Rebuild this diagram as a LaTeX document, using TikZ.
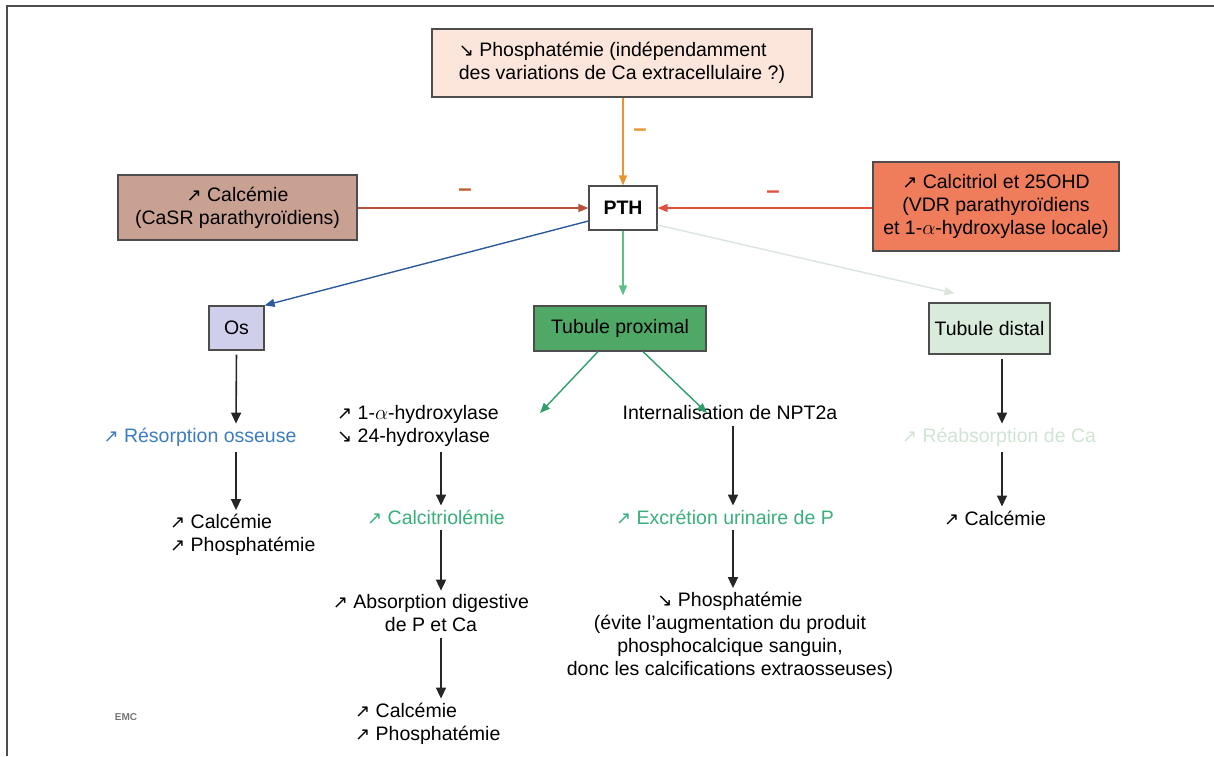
\documentclass[tikz,border=0pt]{standalone}
\usepackage{fontspec}
\setmainfont{Liberation Sans}
\newfontfamily\arrowfont{DejaVu Sans}
\usetikzlibrary{arrows.meta}

\definecolor{boxline}{HTML}{4D4D4D}
\definecolor{topfill}{HTML}{FCE6DC}
\definecolor{calcfill}{HTML}{C9A193}
\definecolor{vitfill}{HTML}{EF7D5B}
\definecolor{osfill}{HTML}{CFCFEB}
\definecolor{proxfill}{HTML}{4FA865}
\definecolor{distfill}{HTML}{D9EBDB}
\definecolor{orangeline}{HTML}{E8952F}
\definecolor{brunline}{HTML}{B4533A}
\definecolor{rougeline}{HTML}{E0503A}
\definecolor{bleuline}{HTML}{2C5C9C}
\definecolor{vertclair}{HTML}{5FBF8A}
\definecolor{grisvert}{HTML}{DCE4DE}
\definecolor{vertfonce}{HTML}{2E9E6B}
\definecolor{bleutexte}{HTML}{3D7CC0}
\definecolor{verttexte}{HTML}{3AAE7B}
\definecolor{reabstexte}{HTML}{D0E3D4}

\newcommand{\hausse}{{\arrowfont\fontsize{18}{18}\selectfont ↗}}
\newcommand{\baisse}{{\arrowfont\fontsize{18}{18}\selectfont ↘}}

\begin{document}
\begin{tikzpicture}[x=1pt,y=-1pt,
    every node/.style={font=\fontsize{19.5}{23}\selectfont},
    box/.style={draw=boxline,line width=1.2pt,inner sep=0pt,align=center},
    txt/.style={inner sep=2pt,align=center},
    fleche/.style={-{Triangle[length=11pt,width=10pt]},line width=1.6pt,black!85,shorten <=4pt,shorten >=2pt},
    lien/.style={-{Triangle[length=10pt,width=8pt]},line width=1.4pt},
    moins/.style={font=\fontsize{24}{24}\selectfont\bfseries}
  ]
  \useasboundingbox (0,0) rectangle (1214,756);

  % FRAME
  \draw[line width=2pt,boxline] (7,756) -- (7,6) -- (1214,6);

  % REGULATORS
  \node[box,fill=topfill,minimum width=380pt,minimum height=68pt,align=left] (phos) at (622,63)
    {\baisse{} Phosphatémie (indépendamment\\des variations de Ca extracellulaire ?)};
  \node[box,fill=calcfill,minimum width=239pt,minimum height=65pt] (calcemie) at (237.5,207.5)
    {\hausse{} Calcémie\\(CaSR parathyroïdiens)};
  \node[box,fill=vitfill,minimum width=246pt,minimum height=89pt] (calcitriol) at (996,206.5)
    {\hausse{} Calcitriol et 25OHD\\(VDR parathyroïdiens\\et 1-$\alpha$-hydroxylase locale)};

  % PTH
  \node[box,fill=white,minimum width=68pt,minimum height=44pt,
    font=\fontsize{19.5}{23}\selectfont\bfseries] (pth) at (623,208) {PTH};

  % TARGETS
  \node[box,fill=osfill,minimum width=55pt,minimum height=44pt] (os) at (236.5,328) {Os};
  \node[box,fill=proxfill,minimum width=172pt,minimum height=45pt] (tprox) at (620,328.5) {Tubule proximal};
  \node[box,fill=distfill,minimum width=121pt,minimum height=51pt] (tdist) at (989.5,328.5) {Tubule distal};

  % minus signs
  \node[moins,text=orangeline] (mtop) at (640,133) {–};
  \node[moins,text=brunline!80!orange] (mleft) at (465,193) {–};
  \node[moins,text=rougeline] (mright) at (773,195) {–};

  % columns
  \coordinate (colA) at (236,0);
  \coordinate (colB) at (441,0);
  \coordinate (colC) at (733,0);
  \coordinate (colD) at (1002,0);
  \coordinate (hydtip) at (540,413);
  \coordinate (interntip) at (707,413);

  % EFFECTS
  % bone
  \node[txt,text=bleutexte] (resorp) at (200,437) {\hausse{} Résorption osseuse};
  \node[txt,align=left,anchor=west] (calc1) at (168,535) {\hausse{} Calcémie\\\hausse{} Phosphatémie};
  % proximal tubule, vitamin D
  \node[txt,align=left,anchor=west] (hydrox) at (335,425.5) {\hausse{} 1-$\alpha$-hydroxylase\\\baisse{} 24-hydroxylase};
  \node[txt,text=verttexte] (calcitriolemie) at (436,517) {\hausse{} Calcitriolémie};
  \node[txt] (absorp) at (431,613.5) {\hausse{} Absorption digestive\\de P et Ca};
  \node[txt,align=left,anchor=west] (calc2) at (353,723.5) {\hausse{} Calcémie\\\hausse{} Phosphatémie};
  % proximal tubule, phosphate
  \node[txt] (intern) at (730,413) {Internalisation de NPT2a};
  \node[txt,text=verttexte] (excretion) at (725,517) {\hausse{} Excrétion urinaire de P};
  \node[txt] (phospho) at (730,636)
    {\baisse{} Phosphatémie\\(évite l'augmentation du produit\\phosphocalcique sanguin,\\donc les calcifications extraosseuses)};
  % distal tubule
  \node[txt,text=reabstexte] (reabs) at (999,437) {\hausse{} Réabsorption de Ca};
  \node[txt] (calc3) at (995,518) {\hausse{} Calcémie};

  % logo
  \node[text=black!55,font=\fontsize{10}{10}\selectfont\bfseries] (logo) at (126,717) {EMC};

  % ARROWS
  \draw[lien,orangeline] (pth.north |- phos.south) -- (pth.north);
  \draw[lien,brunline] (calcemie.east |- pth.west) -- (pth.west);
  \draw[lien,rougeline] (calcitriol.west |- pth.east) -- (pth.east);
  \draw[lien,bleuline] ([yshift=-13pt]pth.west) -- (os.north east);
  \draw[lien,vertclair,shorten >=10pt] (pth.south) -- (pth.south |- tprox.north);
  \draw[lien,grisvert] ([yshift=-17pt]pth.east) -- ([xshift=-35pt,yshift=9pt]tdist.north);
  \draw[lien,vertfonce] ([xshift=-22pt]tprox.south) -- (hydtip);
  \draw[lien,vertfonce] ([xshift=23pt]tprox.south) -- (interntip);

  \draw[fleche] (os.south) -- (colA |- resorp.north);
  \draw[fleche] (colA |- resorp.south) -- (colA |- calc1.north);
  \draw[fleche] (colB |- hydrox.south) -- (colB |- calcitriolemie.north);
  \draw[fleche] (colB |- calcitriolemie.south) -- (colB |- absorp.north);
  \draw[fleche] (colB |- absorp.south) -- (colB |- calc2.north);
  \draw[fleche] (colC |- intern.south) -- (colC |- excretion.north);
  \draw[fleche] (colC |- excretion.south) -- (colC |- phospho.north);
  \draw[fleche] (colD |- tdist.south) -- (colD |- reabs.north);
  \draw[fleche] (colD |- reabs.south) -- (colD |- calc3.north);
\end{tikzpicture}
\end{document}
